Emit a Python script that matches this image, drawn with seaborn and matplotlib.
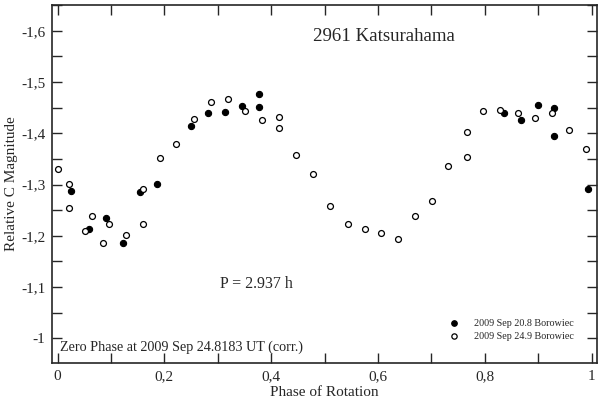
import numpy as np
import pandas as pd
import matplotlib
matplotlib.use('Agg')
import matplotlib.pyplot as plt
from matplotlib.ticker import MultipleLocator, FuncFormatter
import seaborn as sns

# 2009 Sep 20.8 Borowiec (filled)
phase_sep20 = [0.026, 0.058, 0.090, 0.122, 0.154, 0.186,
               0.250, 0.282, 0.313, 0.345, 0.377, 0.377,
               0.835, 0.867, 0.899, 0.930, 0.930, 0.994]
mag_sep20 = [-1.288, -1.213, -1.234, -1.187, -1.285, -1.302,
             -1.414, -1.439, -1.441, -1.453, -1.477, -1.452,
             -1.439, -1.426, -1.455, -1.450, -1.395, -1.292]

# 2009 Sep 24.9 Borowiec (open)
phase_sep24 = [0.000, 0.021, 0.021, 0.052, 0.064, 0.085, 0.096, 0.128,
               0.160, 0.160, 0.192, 0.222, 0.255, 0.287, 0.319, 0.351,
               0.383, 0.414, 0.414, 0.447, 0.478, 0.510, 0.543, 0.575,
               0.605, 0.637, 0.669, 0.701, 0.731, 0.766, 0.766, 0.797,
               0.829, 0.862, 0.894, 0.925, 0.958, 0.989]
mag_sep24 = [-1.330, -1.301, -1.255, -1.210, -1.239, -1.187, -1.223, -1.201,
             -1.291, -1.224, -1.352, -1.380, -1.427, -1.462, -1.467, -1.443,
             -1.426, -1.431, -1.411, -1.357, -1.320, -1.258, -1.223, -1.213,
             -1.205, -1.194, -1.239, -1.268, -1.337, -1.354, -1.403, -1.443,
             -1.445, -1.439, -1.429, -1.439, -1.407, -1.370]

LABEL_20 = '2009 Sep 20.8 Borowiec'
LABEL_24 = '2009 Sep 24.9 Borowiec'

df20 = pd.DataFrame({'phase': phase_sep20, 'mag': mag_sep20})
df24 = pd.DataFrame({'phase': phase_sep24, 'mag': mag_sep24})

sns.set_style('ticks')
plt.rcParams.update({
    'font.family': 'serif',
    'font.serif': ['Liberation Serif', 'DejaVu Serif'],
    'axes.linewidth': 1.2,
})

fig = plt.figure(figsize=(6.0, 3.98), dpi=100)
ax = fig.add_axes([0.087, 0.088, 0.908, 0.899])

sns.scatterplot(data=df20, x='phase', y='mag', ax=ax, s=20, color='black',
                edgecolor='black', linewidth=0.8, label=LABEL_20, zorder=3)
sns.scatterplot(data=df24, x='phase', y='mag', ax=ax, s=18, facecolor='white',
                edgecolor='black', linewidth=0.9, label=LABEL_24, zorder=3)

ax.set_xlim(-0.01, 1.01)
ax.set_ylim(-0.952, -1.65)

ax.xaxis.set_major_locator(MultipleLocator(0.2))
ax.xaxis.set_minor_locator(MultipleLocator(0.1))
ax.yaxis.set_major_locator(MultipleLocator(0.1))
ax.yaxis.set_minor_locator(MultipleLocator(0.05))
comma = FuncFormatter(lambda v, pos: ('%g' % round(v, 3)).replace('.', ','))
ax.xaxis.set_major_formatter(comma)
ax.yaxis.set_major_formatter(comma)
ax.tick_params(which='both', direction='in', top=True, right=True,
               length=7, width=1.0, labelsize=11, pad=5)

ax.set_xlabel('Phase of Rotation', fontsize=11, labelpad=2)
ax.set_ylabel('Relative C Magnitude', fontsize=11)
ax.yaxis.set_label_coords(-0.062, 0.5)

ax.text(0.479, 0.912, '2961 Katsurahama', transform=ax.transAxes,
        fontsize=13.6, ha='left', va='center')
ax.text(0.308, 0.222, 'P = 2.937 h', transform=ax.transAxes,
        fontsize=11.5, ha='left', va='center')
ax.text(0.0147, 0.045, 'Zero Phase at 2009 Sep 24.8183 UT (corr.)',
        transform=ax.transAxes, fontsize=10.2, ha='left', va='center')

ax.legend(loc='lower right', bbox_to_anchor=(0.958, 0.062), frameon=False,
          fontsize=7.3, handletextpad=1.0, markerscale=0.9, labelspacing=0.35,
          borderaxespad=0, borderpad=0)

fig.savefig('out.png', dpi=100)
